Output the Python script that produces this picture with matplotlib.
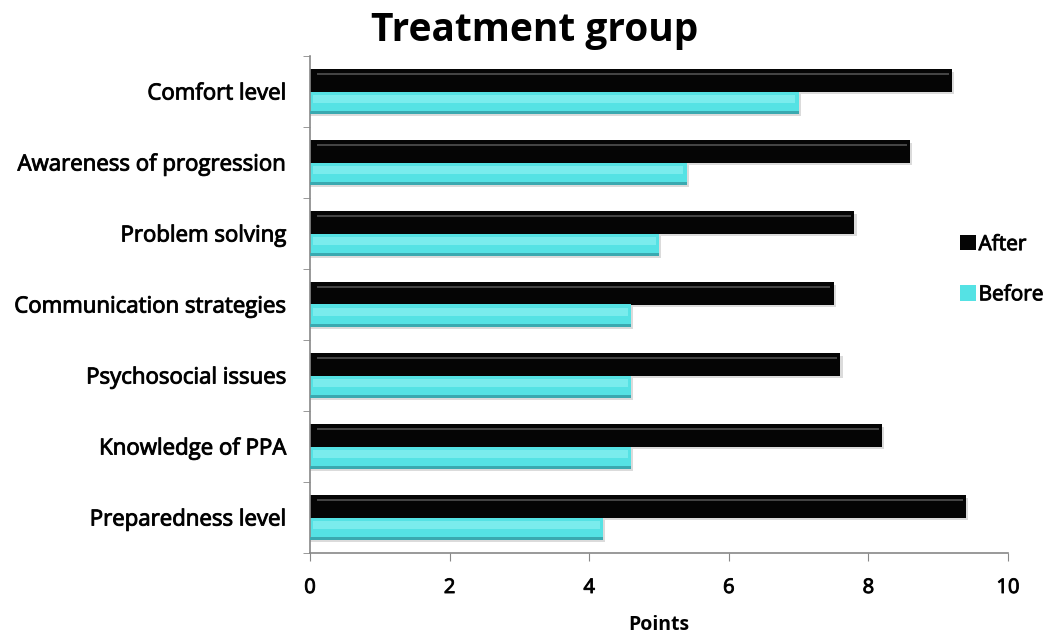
import numpy as np
import matplotlib
matplotlib.use("Agg")
import matplotlib.pyplot as plt
import matplotlib.patheffects as pe

categories = ["Comfort level", "Awareness of progression", "Problem solving",
              "Communication strategies", "Psychosocial issues",
              "Knowledge of PPA", "Preparedness level"]
after = [9.2, 8.6, 7.8, 7.5, 7.6, 8.2, 9.4]
before = [7.0, 5.4, 5.0, 4.6, 4.6, 4.6, 4.2]
xticks = [0, 2, 4, 6, 8, 10]

plt.rcParams['font.family'] = ['Open Sans', 'DejaVu Sans']

# slightly heavier strokes on the regular-weight labels
thick = [pe.withStroke(linewidth=0.7, foreground="#111111")]

fig = plt.figure(figsize=(10.49, 6.36), dpi=100)
ax = fig.add_axes([310 / 1049, 1 - 553 / 636, 698 / 1049, 497 / 636])

n = len(categories)
y = np.arange(n)[::-1].astype(float)
h = 0.31

# soft drop shadow under each bar
for vals, off in ((after, 0.155), (before, -0.155)):
    ax.barh(y + off - 0.03, np.array(vals) + 0.03, height=h, color="#9a9a9a",
            alpha=0.35, zorder=1, linewidth=0)

ax.barh(y + 0.155, after, height=h, color="#050505", label="After", zorder=2,
        linewidth=0)
ax.barh(y - 0.155, before, height=h, color="#55e2e4", label="Before", zorder=2,
        linewidth=0)

# glossy highlight strip along each bar
ax.barh(y + 0.155 + 0.09, np.array(after) - 0.15, left=0.1, height=0.03,
        color="#444444", zorder=3, linewidth=0)
ax.barh(y - 0.155 + 0.05, np.array(before) - 0.1, left=0.05, height=0.1,
        color="#7aeced", zorder=3, linewidth=0)
ax.barh(y - 0.155 - 0.135, before, height=0.04, color="#3aa9b0", zorder=3,
        linewidth=0)

ax.set_xlim(0, 10)
ax.set_ylim(-0.5, n - 0.5)
ax.set_xticks(xticks)
ax.set_xticklabels([str(t) for t in xticks], fontsize=14.5, path_effects=thick)
ax.set_yticks(y)
ax.set_yticklabels(categories, fontsize=16, path_effects=thick)
ax.set_yticks(np.arange(n + 1) - 0.5, minor=True)
ax.tick_params(axis='y', which='major', length=0, pad=17)
ax.tick_params(axis='y', which='minor', length=5, color="#888888")
ax.tick_params(axis='x', length=6, color="#888888", pad=12)

for side in ("top", "right"):
    ax.spines[side].set_visible(False)
for side in ("left", "bottom"):
    ax.spines[side].set_color("#888888")
    ax.spines[side].set_linewidth(1.2)

ax.set_xlabel("Points", fontsize=14, fontweight='bold', labelpad=12)

fig.text(535 / 1049, 1 - 30 / 636, "Treatment group", fontsize=28,
         fontweight='bold', ha='center', va='center')

leg = ax.legend(loc='center left', bbox_to_anchor=(0.905, 0.57), frameon=False,
                handlelength=0.75, handleheight=0.75, handletextpad=0.12,
                labelspacing=1.4, prop={'size': 15})
for t in leg.get_texts():
    t.set_path_effects(thick)

fig.savefig("out.png", dpi=100)
